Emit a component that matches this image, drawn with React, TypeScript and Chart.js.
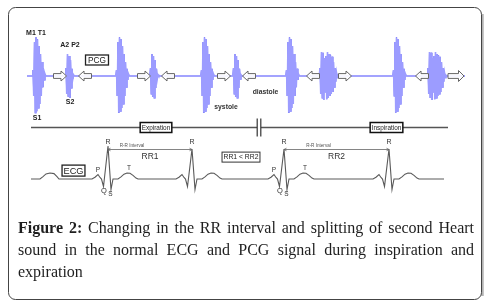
import React, { useEffect, useRef } from "react";
import { Chart, registerables } from "chart.js";

Chart.register(...registerables);

// ---------- PCG (time in s, amplitude in arbitrary units) ----------
const PCG_END = 4.38;
const PCG_SAMPLE_DT = 0.0075;
const S1_ONSETS = [0.06, 0.895, 1.745, 2.595, 3.665];
const S2_EXP_ONSETS = [0.39, 1.235, 2.065];
const S2_INSP_ONSETS = [2.93, 4.01];
const S1_AMP = [0.15, -0.5, 0.85, -0.92, 0.97, -0.88, 0.92, -0.8, 0.75, -0.7, 0.55, -0.5, 0.35, -0.28, 0.18, -0.1, 0.05, 0];
const S2_EXP_AMP = [0.2, -0.45, 0.55, -0.52, 0.5, -0.55, 0.4, -0.3, 0.18, -0.08, 0.03, 0];
const S2_INSP_AMP = [0.2, -0.45, 0.6, -0.55, 0.58, -0.6, 0.45, -0.4, 0.5, -0.58, 0.6, -0.55, 0.55, -0.5, 0.52, -0.45, 0.48, -0.4, 0.35, -0.28, 0.2, -0.14, 0.08, -0.04, 0.02, 0];
const ARROW_T = [0.33, 0.58, 1.17, 1.41, 1.97, 2.22, 2.86, 3.18, 3.95, 4.29];
const ARROW_DIR = [1, -1, 1, -1, 1, -1, -1, 1, -1, 1];
const SYSTOLE_AT = [1.99, -0.78];
const DIASTOLE_AT = [2.385, -0.4];

// ---------- Respiration phase line (PCG time axis) ----------
const PHASE_START = 0.04;
const PHASE_END = 4.21;
const PHASE_SPLIT = 2.32;
const PHASE_LEVEL = -1.275;
const PHASE_LABELS = ["Expiration", "Inspiration"];
const PHASE_LABEL_T = [1.29, 3.595];

// ---------- ECG (time in s, mV) ----------
const ECG_END = 4.13;
const ECG_LEAD_T = [0, 0.09, 0.12, 0.15, 0.19, 0.23, 0.26, 0.28];
const ECG_LEAD_MV = [0, 0, 0.08, 0.17, 0.2, 0.18, 0.08, 0];
const R_TIMES = [0.77, 1.61, 2.53, 3.58];
const R_AMP = [1.1, 1.0, 1.0, 1.0];
const BEAT_DT = [-0.16, -0.13, -0.1, -0.08, -0.065, -0.045, 0, 0.03, 0.05, 0.1, 0.13, 0.16, 0.19, 0.22, 0.25, 0.28, 0.3];
const BEAT_MV = [0, 0.06, 0.15, 0.05, 0, -0.25, 1, -0.35, 0, 0, 0.07, 0.16, 0.2, 0.19, 0.12, 0.03, 0];
const LABELED_BEATS = [0, 2];
const RR_PAIRS = [[0, 1], [2, 3]];
const RR_NAMES = ["RR1", "RR2"];

const SANS = '"Liberation Sans", Arial, sans-serif';

function buildPcg() {
  const bursts: { onset: number; amp: number[] }[] = [];
  S1_ONSETS.forEach((o) => bursts.push({ onset: o, amp: S1_AMP }));
  S2_EXP_ONSETS.forEach((o) => bursts.push({ onset: o, amp: S2_EXP_AMP }));
  S2_INSP_ONSETS.forEach((o) => bursts.push({ onset: o, amp: S2_INSP_AMP }));
  bursts.sort((a, b) => a.onset - b.onset);
  const pts: { x: number; y: number }[] = [{ x: 0, y: 0 }];
  bursts.forEach((b) => {
    pts.push({ x: b.onset - PCG_SAMPLE_DT, y: 0 });
    b.amp.forEach((a, i) => pts.push({ x: b.onset + i * PCG_SAMPLE_DT, y: a }));
  });
  pts.push({ x: PCG_END, y: 0 });
  return pts;
}

function buildEcg() {
  const pts = ECG_LEAD_T.map((t, i) => ({ x: t, y: ECG_LEAD_MV[i] }));
  R_TIMES.forEach((r, bi) =>
    BEAT_DT.forEach((d, i) => pts.push({ x: r + d, y: d === 0 ? R_AMP[bi] : BEAT_MV[i] }))
  );
  pts.push({ x: ECG_END, y: 0 });
  return pts;
}

function txt(ctx: CanvasRenderingContext2D, s: string, x: number, y: number, size: number, bold = false, color = "#222") {
  ctx.font = `${bold ? "bold " : ""}${size}px ${SANS}`;
  ctx.fillStyle = color;
  ctx.textAlign = "center";
  ctx.textBaseline = "middle";
  ctx.fillText(s, x, y);
}

function boxTxt(ctx: CanvasRenderingContext2D, s: string, cx: number, cy: number, size: number, padX: number, h: number, lw: number, color = "#222") {
  ctx.font = `${size}px ${SANS}`;
  const w = ctx.measureText(s).width + 2 * padX;
  ctx.fillStyle = "#fff";
  ctx.fillRect(cx - w / 2, cy - h / 2, w, h);
  ctx.lineWidth = lw;
  ctx.strokeStyle = color;
  ctx.strokeRect(cx - w / 2, cy - h / 2, w, h);
  txt(ctx, s, cx, cy + 0.5, size, false, "#222");
}

function blockArrow(ctx: CanvasRenderingContext2D, cx: number, cy: number, d: number, L: number, H: number) {
  const half = L / 2, sh = 2.4, hh = H / 2, head = 5.5;
  const pts = [[-half, -sh], [half - head, -sh], [half - head, -hh], [half, 0], [half - head, hh], [half - head, sh], [-half, sh]];
  ctx.beginPath();
  pts.forEach(([x, y], i) => {
    const X = cx + d * x, Y = cy + y;
    if (i) ctx.lineTo(X, Y); else ctx.moveTo(X, Y);
  });
  ctx.closePath();
  ctx.fillStyle = "rgba(255,255,255,0.9)";
  ctx.fill();
  ctx.strokeStyle = "#666";
  ctx.lineWidth = 1;
  ctx.stroke();
}

const annotPlugin = {
  id: "annot",
  beforeDraw(chart: any) {
    const ctx: CanvasRenderingContext2D = chart.ctx;
    ctx.save();
    ctx.fillStyle = "#fff";
    ctx.fillRect(0, 0, chart.width, chart.height);
    ctx.strokeStyle = "#b4b4b4";
    ctx.lineWidth = 2.5;
    ctx.beginPath();
    ctx.moveTo(482.5, 14);
    ctx.lineTo(482.5, 296);
    ctx.stroke();
    ctx.strokeStyle = "#444";
    ctx.lineWidth = 1;
    ctx.beginPath();
    (ctx as any).roundRect(8.5, 7.5, 473, 292, 7);
    ctx.stroke();
    ctx.restore();
  },
  afterDatasetsDraw(chart: any) {
    const ctx: CanvasRenderingContext2D = chart.ctx;
    const s = chart.scales;
    const px = (t: number) => s.xp.getPixelForValue(t);
    const py = (v: number) => s.yp.getPixelForValue(v);
    const ex = (t: number) => s.xe.getPixelForValue(t);
    const ey = (v: number) => s.ye.getPixelForValue(v);
    ctx.save();

    ARROW_T.forEach((t, i) => {
      const last = i === ARROW_T.length - 1;
      blockArrow(ctx, px(t), py(0), ARROW_DIR[i], last ? 16 : 13, last ? 11 : 10);
    });

    const s1x = px(S1_ONSETS[0]) + 4;
    const s2x = px(S2_EXP_ONSETS[0]) + 4;
    txt(ctx, "M1 T1", s1x - 1, py(Math.max(...S1_AMP)) - 4, 7, true);
    txt(ctx, "S1", s1x, py(Math.min(...S1_AMP)) + 5, 7, true);
    txt(ctx, "A2 P2", s2x, py(Math.max(...S2_EXP_AMP)) - 9, 7, true);
    txt(ctx, "S2", s2x, py(Math.min(...S2_EXP_AMP)) + 4, 7, true);
    boxTxt(ctx, "PCG", px(0.7), py(0.4), 8.3, 2.5, 10, 1.3);
    txt(ctx, "systole", px(SYSTOLE_AT[0]), py(SYSTOLE_AT[1]), 6.8, true, "#333");
    txt(ctx, "diastole", px(DIASTOLE_AT[0]), py(DIASTOLE_AT[1]), 6.8, true, "#333");

    const ly = Math.round(py(PHASE_LEVEL)) + 0.5;
    ctx.strokeStyle = "#555";
    ctx.lineWidth = 1.4;
    ctx.beginPath();
    ctx.moveTo(px(PHASE_START), ly);
    ctx.lineTo(px(PHASE_END), ly);
    ctx.stroke();
    PHASE_LABELS.forEach((l, i) => boxTxt(ctx, l, px(PHASE_LABEL_T[i]), ly, 6.4, 1.6, 10, 1.5, "#111"));
    const bx = px(PHASE_SPLIT);
    ctx.fillStyle = "#fff";
    ctx.fillRect(bx - 2, ly - 9, 4, 18);
    ctx.strokeStyle = "#333";
    ctx.lineWidth = 1.2;
    ctx.beginPath();
    ctx.moveTo(bx - 1.8, ly - 9); ctx.lineTo(bx - 1.8, ly + 9);
    ctx.moveTo(bx + 1.8, ly - 9); ctx.lineTo(bx + 1.8, ly + 9);
    ctx.stroke();

    boxTxt(ctx, "ECG", ex(0.425), ey(0.28), 9.2, 1.5, 11, 1.3);
    R_TIMES.forEach((r) => txt(ctx, "R", ex(r), ey(1.23), 7, false, "#333"));
    LABELED_BEATS.forEach((b) => {
      const r = R_TIMES[b];
      txt(ctx, "P", ex(r - 0.1), ey(0.15) - 4, 6.5, false, "#333");
      txt(ctx, "Q", ex(r - 0.04), ey(-0.4), 7.5, false, "#333");
      txt(ctx, "S", ex(r + 0.025), ey(-0.51), 6.5, false, "#333");
      txt(ctx, "T", ex(r + 0.21), ey(0.2) - 4.5, 6.5, false, "#333");
    });
    RR_PAIRS.forEach(([a, b], i) => {
      const x0 = ex(R_TIMES[a]), x1 = ex(R_TIMES[b]);
      const yy = Math.round(ey(1.0)) + 0.5;
      ctx.strokeStyle = "#666";
      ctx.lineWidth = 0.8;
      ctx.beginPath();
      ctx.moveTo(x0, yy); ctx.lineTo(x1, yy);
      ctx.moveTo(x0 + 2.5, yy - 1.3); ctx.lineTo(x0, yy); ctx.lineTo(x0 + 2.5, yy + 1.3);
      ctx.moveTo(x1 - 2.5, yy - 1.3); ctx.lineTo(x1, yy); ctx.lineTo(x1 - 2.5, yy + 1.3);
      ctx.stroke();
      const mid = (R_TIMES[a] + R_TIMES[b]) / 2;
      txt(ctx, "R-R Interval", ex(mid - 0.18), ey(1.1), 4.6, false, "#555");
      txt(ctx, RR_NAMES[i], ex(mid), ey(0.74), 8.5, false, "#333");
    });
    const boxT = (R_TIMES[1] + R_TIMES[2]) / 2 + 0.03;
    boxTxt(ctx, "RR1 < RR2", ex(boxT), ey(0.73), 6.8, 1.5, 10, 1, "#333");

    ctx.restore();
  },
};

export default function App() {
  const ref = useRef<HTMLCanvasElement>(null);
  useEffect(() => {
    document.body.style.margin = "0";
    const pcg = buildPcg();
    const chart = new Chart(ref.current as HTMLCanvasElement, {
      type: "scatter",
      data: {
        datasets: [
          {
            data: pcg,
            xAxisID: "xp",
            yAxisID: "yp",
            showLine: true,
            borderColor: "#9c9cff",
            borderWidth: 1.6,
            pointRadius: 0,
            tension: 0,
          },
          {
            data: pcg,
            xAxisID: "xp",
            yAxisID: "yp",
            showLine: true,
            borderColor: "#3434ee",
            borderWidth: 0.7,
            pointRadius: 0,
            tension: 0,
          },
          {
            data: buildEcg(),
            xAxisID: "xe",
            yAxisID: "ye",
            showLine: true,
            borderColor: "#5a5a5a",
            borderWidth: 1.1,
            pointRadius: 0,
            tension: 0,
          },
        ],
      } as any,
      options: {
        animation: false,
        responsive: false,
        maintainAspectRatio: false,
        layout: { padding: 0 },
        events: [],
        plugins: { legend: { display: false }, tooltip: { enabled: false }, title: { display: false } },
        scales: {
          xp: { type: "linear", axis: "x", position: "bottom", display: false, min: -0.27, max: 4.61 },
          yp: { type: "linear", axis: "y", position: "left", display: false, min: -5.75, max: 1.9 },
          xe: { type: "linear", axis: "x", position: "bottom", display: false, min: -0.31, max: 4.57 },
          ye: { type: "linear", axis: "y", position: "left", display: false, min: -4.2333, max: 5.9667 },
        },
      } as any,
      plugins: [annotPlugin],
    });
    return () => chart.destroy();
  }, []);

  return (
    <div style={{ position: "relative", width: 488, height: 306, overflow: "hidden", background: "#fff" }}>
      <canvas ref={ref} width={488} height={306} style={{ position: "absolute", left: 0, top: 0, width: 488, height: 306 }} />
      <div
        style={{
          position: "absolute",
          left: 18,
          top: 216.6,
          width: 456,
          font: '16px "Liberation Serif", "DejaVu Serif", serif',
          lineHeight: "22px",
          textAlign: "justify",
          color: "#1e1e1e",
        }}
      >
        <b>Figure 2:</b> Changing in the RR interval and splitting of second Heart sound in the normal ECG and PCG signal during inspiration and expiration
      </div>
    </div>
  );
}
